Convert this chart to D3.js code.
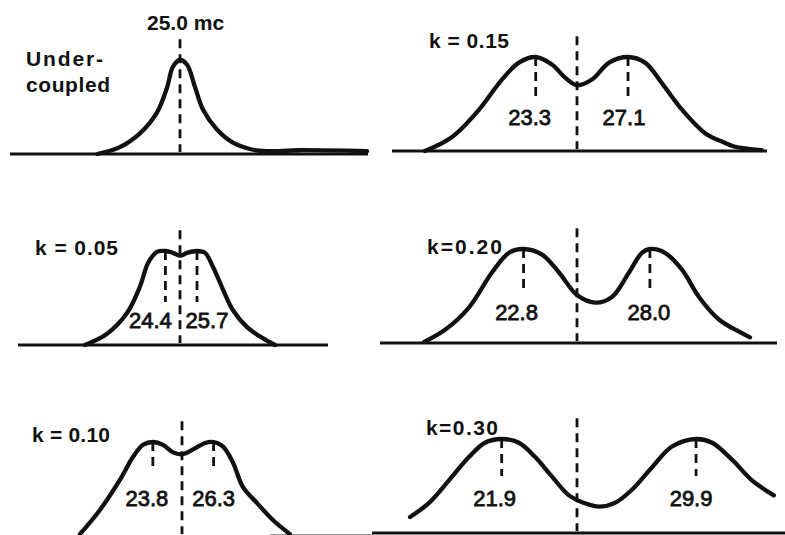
<!DOCTYPE html>
<html><head><meta charset="utf-8">
<script src="https://cdn.jsdelivr.net/npm/d3@7"></script>
<style>html,body{margin:0;padding:0;background:#fff;} svg{display:block;background:#fff;}</style>
</head><body><svg id="c" width="785" height="535"></svg>
<script>
// ---- Data (frequency in mc, relative response 0..1) ----
const centerFreq = 25.0;
const panelTitles = ["Under-|coupled", "k = 0.15", "k = 0.05", "k=0.20", "k = 0.10", "k=0.30"];
const peakFreqs = [[25.0], [23.3, 27.1], [24.4, 25.7], [22.8, 28.0], [23.8, 26.3], [21.9, 29.9]];
const peakLabels = [["25.0 mc"], ["23.3", "27.1"], ["24.4", "25.7"], ["22.8", "28.0"], ["23.8", "26.3"], ["21.9", "29.9"]];

const freqUnder = [21.6, 22.5, 23.35, 24.05, 24.47, 24.71, 25.0, 25.29, 25.62, 25.95, 26.52, 27.18, 28.0, 28.6, 29.9, 32.7];
const ampUnder  = [0, 0.07, 0.22, 0.44, 0.71, 0.93, 1.0, 0.95, 0.71, 0.47, 0.26, 0.12, 0.045, 0.03, 0.04, 0.03];

const freqK015 = [18.74, 19.86, 20.97, 21.91, 22.61, 23.3, 23.97, 24.51, 25.0, 25.62, 26.32, 27.1, 27.8, 28.5, 29.32, 30.27, 31.1, 31.5, 32.6];
const ampK015  = [0, 0.15, 0.44, 0.76, 0.94, 1.0, 0.92, 0.78, 0.70, 0.76, 0.94, 1.0, 0.94, 0.72, 0.44, 0.19, 0.085, 0.045, 0.01];

const freqK005 = [21.09, 22.0, 22.82, 23.35, 23.68, 24.05, 24.4, 24.71, 25.0, 25.29, 25.7, 26.03, 26.36, 26.77, 27.18, 27.76, 28.42, 28.91];
const ampK005  = [0, 0.12, 0.34, 0.62, 0.87, 0.99, 1.0, 0.98, 0.95, 0.98, 1.0, 0.98, 0.83, 0.59, 0.37, 0.19, 0.07, 0];

const freqK020 = [18.7, 19.57, 20.56, 21.5, 22.2, 22.8, 23.56, 24.26, 25.0, 25.74, 26.44, 27.14, 27.67, 28.0, 28.62, 29.32, 30.02, 30.84, 31.67, 32.12];
const ampK020  = [0.01, 0.14, 0.38, 0.75, 0.96, 1.0, 0.94, 0.75, 0.51, 0.43, 0.49, 0.75, 0.96, 1.0, 0.96, 0.78, 0.49, 0.25, 0.12, 0.06];

const freqK010 = [20.8, 21.63, 22.45, 22.98, 23.4, 23.8, 24.22, 24.63, 25.0, 25.45, 25.95, 26.3, 26.69, 27.1, 27.51, 28.09, 28.74, 29.44];
const ampK010  = [0.02, 0.28, 0.6, 0.84, 0.97, 1.0, 0.97, 0.89, 0.87, 0.92, 0.99, 1.0, 0.95, 0.78, 0.52, 0.35, 0.17, 0.02];

const freqK030 = [18.13, 18.91, 19.73, 20.56, 21.21, 21.9, 22.61, 23.27, 23.97, 24.67, 25.29, 25.91, 26.56, 27.26, 28.09, 28.91, 29.9, 30.56, 31.38, 32.2, 33.1];
const ampK030  = [0.17, 0.32, 0.56, 0.81, 0.96, 1.0, 0.96, 0.81, 0.6, 0.4, 0.32, 0.28, 0.32, 0.46, 0.7, 0.92, 1.0, 0.96, 0.78, 0.56, 0.4];

const curveFreqs = [freqUnder, freqK015, freqK005, freqK020, freqK010, freqK030];
const curveAmps  = [ampUnder, ampK015, ampK005, ampK020, ampK010, ampK030];

// ---- Layout ----
const pxPerMc = 24.3, ampPx = 94;
const layout = [
  {cx:180, baseY:154, line:[10,368],  baseColor:"#111", title:[26,66],  titleW:[77,84], labelDx:[0],      labelDy:-124},
  {cx:577, baseY:151, line:[392,767], baseColor:"#111", title:[429,48], titleW:[80],    labelDx:[-6,-4],  labelDy:-26, dashGap:26},
  {cx:180, baseY:345, line:[18,328],  baseColor:"#111", title:[35,255], titleW:[83],    labelDx:[-15,10], labelDy:-17, dashGap:26},
  {cx:577, baseY:343, line:[380,777], baseColor:"#111", title:[427,254],titleW:[75],    labelDx:[-7,-1],  labelDy:-23, dashGap:31},
  {cx:182, baseY:536, line:[270,372], baseColor:"#9a9a9a", title:[32,442], titleW:[78], labelDx:[-6,0],   labelDy:-30, dashGap:34},
  {cx:577, baseY:533, line:[372,785], baseColor:"#111", title:[426,435],titleW:[72],    labelDx:[-7,-5],  labelDy:-27, dashGap:30}
];

const svg = d3.select("#c");
const font = "'Liberation Sans', Arial, sans-serif";

layout.forEach((L, i) => {
  const x = d3.scaleLinear().domain([centerFreq - 8, centerFreq + 8]).range([L.cx - 8*pxPerMc, L.cx + 8*pxPerMc]);
  const y = d3.scaleLinear().domain([0, 1]).range([L.baseY, L.baseY - ampPx]);
  const g = svg.append("g");

  // baseline
  g.append("line").attr("x1", L.line[0]).attr("x2", L.line[1])
    .attr("y1", y(0)).attr("y2", y(0))
    .attr("stroke", L.baseColor).attr("stroke-width", i === 4 ? 4 : 3);

  // center dashed line
  g.append("line").attr("x1", x(centerFreq)).attr("x2", x(centerFreq))
    .attr("y1", y(1.22)).attr("y2", y(0) - 2)
    .attr("stroke", "#111").attr("stroke-width", 2.8).attr("stroke-dasharray", "9,6");

  // curve
  const pts = curveFreqs[i].map((f, j) => [f, curveAmps[i][j]]);
  g.append("path").datum(pts)
    .attr("d", d3.line().x(d => x(d[0])).y(d => y(d[1])).curve(d3.curveCatmullRom.alpha(0.5)))
    .attr("fill", "none").attr("stroke", "#111").attr("stroke-width", 4.3)
    .attr("stroke-linecap", "round").attr("stroke-linejoin", "round");

  // title
  const tl = panelTitles[i].split("|");
  tl.forEach((t, k) => {
    g.append("text").attr("x", L.title[0]).attr("y", L.title[1] + k*26)
      .attr("font-family", font).attr("font-weight", "bold")
      .attr("font-size", 21)
      .attr("textLength", L.titleW[k]).attr("lengthAdjust", "spacing")
      .attr("fill", "#111").text(t);
  });

  // peak markers & labels
  if (i === 0) {
    g.append("text").attr("x", x(centerFreq) - 33).attr("y", y(0) + L.labelDy)
      .attr("font-family", font).attr("font-weight", "bold").attr("font-size", 21)
      .attr("fill", "#111").text(peakLabels[0][0]);
  } else {
    peakFreqs[i].forEach((f, k) => {
      const ly = y(0) + L.labelDy;
      g.append("line").attr("x1", x(f)).attr("x2", x(f))
        .attr("y1", y(1)).attr("y2", ly - L.dashGap)
        .attr("stroke", "#111").attr("stroke-width", 2.8).attr("stroke-dasharray", "9,6");
      g.append("text").attr("x", x(f) + L.labelDx[k]).attr("y", ly)
        .attr("text-anchor", "middle")
        .attr("font-family", font).attr("font-size", 22)
        .attr("fill", "#111").attr("stroke", "#111").attr("stroke-width", 0.8)
        .text(peakLabels[i][k]);
    });
  }
});
</script></body></html>
